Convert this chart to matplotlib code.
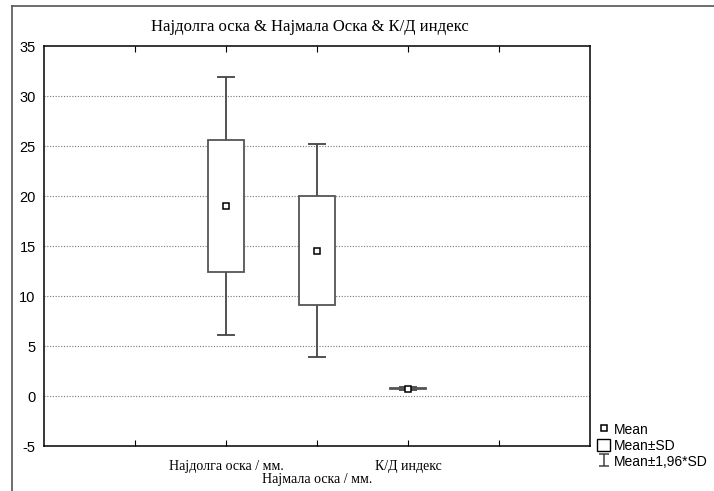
import matplotlib.pyplot as plt
from matplotlib.lines import Line2D
from matplotlib.patches import Patch
from matplotlib.path import Path

# values
categories = ['Најдолга оска / мм.', 'Најмала оска / мм.', 'К/Д индекс']
means = [19.0, 14.55, 0.74]
sds = [6.6, 5.45, 0.07]
xpos = [2, 3, 4]

serif = 'Liberation Serif'
sans = 'Liberation Sans'
plt.rcParams['axes.unicode_minus'] = False

fig = plt.figure(figsize=(7.14, 4.91), dpi=100)
ax = fig.add_axes([0.0616, 0.0916, 0.7647, 0.8147])

lo = [m - s for m, s in zip(means, sds)]
ax.errorbar(xpos, means, yerr=[1.96 * s for s in sds], fmt='none',
            ecolor='#444444', elinewidth=1.3, capsize=6.5, capthick=1.3, zorder=2)
ax.bar(xpos, [2 * s for s in sds], bottom=lo, width=0.4, color='white',
       edgecolor='#555555', linewidth=1.3, zorder=3)
ax.plot(xpos, means, 's', ms=5, mfc='white', mec='black', mew=1.1, zorder=4)

ax.set_xlim(0, 6)
ax.set_ylim(-5, 35)
ax.set_yticks(range(-5, 40, 5))
ax.set_xticks([1, 2, 3, 4, 5])
ax.set_xticklabels([])
ax.tick_params(axis='x', direction='in', top=True, length=4, width=0.8)
ax.tick_params(axis='y', direction='in', length=0, labelsize=10.5, pad=6)
for lab in ax.get_yticklabels():
    lab.set_fontfamily(sans)
for y in range(0, 35, 5):
    ax.axhline(y, color='#777777', lw=0.8, ls=(0, (1, 1.5)), zorder=1)
for sp in ax.spines.values():
    sp.set_linewidth(1.1)

# staggered category labels
for i, (x, name) in enumerate(zip(xpos, categories)):
    off = -0.035 if i % 2 == 0 else -0.068
    ax.text(x, off, name, transform=ax.get_xaxis_transform(), ha='center',
            va='top', fontsize=10, family=serif)

fig.text(0.434, 0.945, 'Најдолга оска & Најмала Оска & К/Д индекс',
         ha='center', va='center', fontsize=12, family=serif)

# outer frame lines
fig.add_artist(Line2D([12 / 714, 12 / 714], [0, 1 - 6 / 491], color='#555555', lw=1.2,
                      transform=fig.transFigure))
fig.add_artist(Line2D([12 / 714, 1], [1 - 6 / 491, 1 - 6 / 491], color='#555555', lw=1.2,
                      transform=fig.transFigure))

whisker = Path([(-0.8, 1), (0.8, 1), (0, 1), (0, -1), (-0.8, -1), (0.8, -1)],
               [Path.MOVETO, Path.LINETO, Path.MOVETO, Path.LINETO, Path.MOVETO, Path.LINETO])
handles = [
    Line2D([], [], marker='s', ls='none', ms=5, mfc='white', mec='black', mew=1.1),
    Patch(facecolor='white', edgecolor='black', linewidth=1),
    Line2D([], [], marker=whisker, ls='none', ms=9, mfc='none', mec='#444444', mew=1.1),
]
leg = fig.legend(handles, ['Mean', 'Mean±SD', 'Mean±1,96*SD'], loc='lower left',
                 bbox_to_anchor=(0.836, 0.045), frameon=False, borderaxespad=0,
                 handlelength=0.95, handleheight=1.0, handletextpad=0.25,
                 labelspacing=0.15, borderpad=0, prop={'family': sans, 'size': 10})

fig.savefig('out.png', dpi=100)
